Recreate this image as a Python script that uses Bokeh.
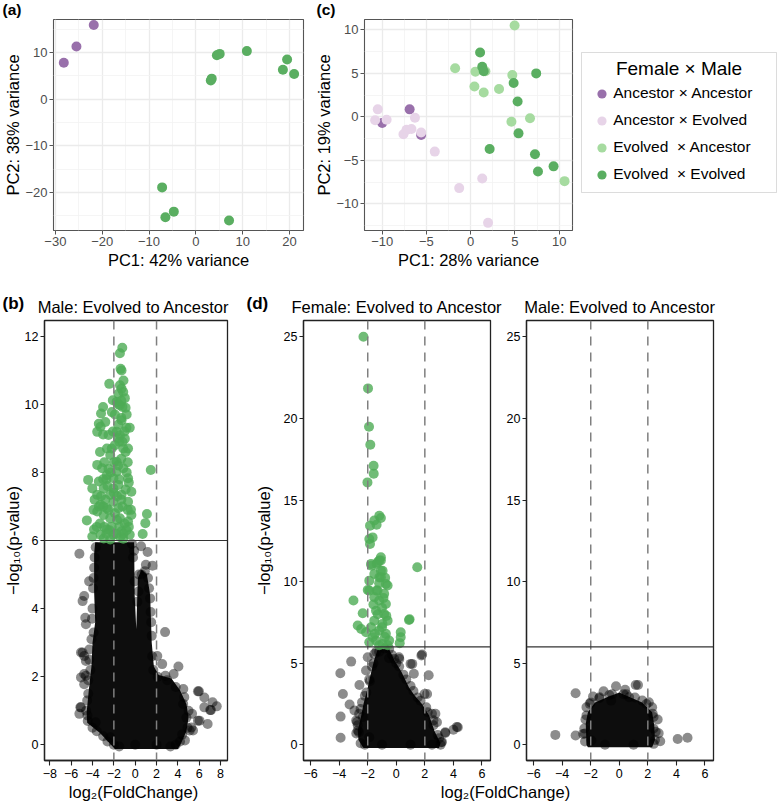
import math
from bokeh.plotting import figure
from bokeh.layouts import column, row
from bokeh.models import Range1d, FixedTicker, Span, Label, Legend, LegendItem, BoxAnnotation
from bokeh.embed import file_html
from bokeh.resources import INLINE

FONT = "Liberation Sans"

# ---------------- data: (a) PCA ----------------
a_anc_x = [-28.2, -25.5, -21.8]
a_anc_y = [7.8, 11.3, 15.9]
a_evo_x = [3.2, 3.4, 4.5, 5.1, 10.9, 19.5, 18.6, 21.0, -7.2, -6.5, -4.7, 7.1]
a_evo_y = [4.0, 4.4, 9.4, 9.7, 10.3, 8.5, 6.3, 5.4, -18.9, -25.3, -24.1, -26.0]
a_xticks = [-30, -20, -10, 0, 10, 20]
a_yticks = [-20, -10, 0, 10]
a_xminor = [-25, -15, -5, 5, 15]
a_yminor = [-25, -15, -5, 5, 15]

# ---------------- data: (c) PCA ----------------
group_labels = ["Ancestor × Ancestor", "Ancestor × Evolved", "Evolved  × Ancestor", "Evolved  × Evolved"]
group_colors = ["#9970ab", "#e7d4e8", "#a6dba0", "#5aae61"]
c_aa_x = [-10.0, -6.9, -5.6]
c_aa_y = [-0.72, 0.86, -2.1]
c_ae_x = [-10.5, -10.8, -9.5, -7.6, -7.25, -6.7, -6.3, -5.6, -4.06, -1.3, 1.3, 1.96]
c_ae_y = [0.86, -0.4, -0.34, -2.0, -1.5, -1.4, -0.1, -1.8, -4.0, -8.2, -7.1, -12.2]
c_ea_x = [-1.76, 0.53, 1.66, 0.42, 1.47, 3.2, 4.96, 4.7, 4.6, 6.7, 10.6]
c_ea_y = [5.6, 5.2, 5.25, 3.5, 2.8, 3.2, 10.5, 4.8, -0.56, -0.16, -7.4]
c_ee_x = [1.06, 1.3, 1.47, 4.85, 5.3, 5.4, 2.14, 7.4, 7.26, 7.6, 9.36]
c_ee_y = [7.4, 5.75, 5.25, 3.9, 1.76, -1.9, -3.7, 5.0, -4.3, -6.3, -5.7]
c_xticks = [-10, -5, 0, 5, 10]
c_yticks = [-10, -5, 0, 5, 10]
c_xminor = [-7.5, -2.5, 2.5, 7.5]
c_yminor = [-12.5, -7.5, -2.5, 2.5, 7.5]

# ---------------- data: volcano thresholds ----------------
fc_cut = [-2, 2]
p_cut = 6

# ---------------- data: (b) male volcano ----------------
b_core_x = [-3.75, -0.1, -0.05, 0.1, 0.25, 0.6, 1.1, 1.4, 1.55, 1.75, 2.2, 3.4, 4.2, 4.8, 5.0, 4.8, 4.3, 4.0,
            -1.9, -2.4, -3.3, -4.5, -4.55, -4.35, -4.1, -4.0, -3.75, -3.85, -3.85]
b_core_y = [5.95, 5.95, 4.4, 3.4, 4.9, 5.15, 5.0, 4.4, 3.0, 2.3, 2.05, 1.95, 1.6, 1.2, 0.8, 0.4, 0.05, -0.12,
            -0.12, 0.05, 0.35, 0.65, 0.95, 1.6, 2.3, 3.0, 3.6, 4.5, 5.6]
b_gray = [(-5.23, 5.61), (-4.78, 4.37), (-4.93, 4.22), (-4.62, 3.54), (-4.32, 4.80), (-5.08, 2.71),
          (-4.78, 2.61), (-4.62, 2.46), (-5.08, 1.98), (-4.62, 2.03), (-4.78, 1.78), (-5.08, 1.10),
          (-5.23, 0.91), (-4.47, 0.86), (-3.71, 0.66), (-2.34, 0.22), (0.55, 5.83), (1.16, 5.66),
          (1.62, 5.26), (1.0, 5.29), (2.8, 3.31), (2.07, 2.61), (2.53, 2.37), (4.05, 2.30), (2.83, 2.03),
          (3.6, 2.08), (4.51, 1.64), (5.88, 1.57), (6.48, 1.39), (7.25, 1.25), (7.64, 1.13), (6.48, 1.10),
          (7.1, 1.02), (5.88, 0.71), (6.79, 0.61), (5.42, 0.42), (4.66, 0.13), (5.27, 0.51), (-4.68, 3.73),
          (-4.93, 2.71), (-4.78, 2.08), (-5.14, 1.10), (5.97, 1.57), (7.03, 1.02), (6.03, 0.71), (5.11, 0.42),
          (5.33, 0.91), (-3.8, 5.5), (-3.9, 4.9), (-4.0, 4.0), (-3.9, 3.3), (-4.3, 2.8), (-4.2, 2.2),
          (-4.4, 1.5), (-4.6, 1.0), (-4.0, 0.5), (-3.0, 0.25), (-2.0, 0.0), (0.0, 0.0), (2.0, 0.0), (3.8, 0.0),
          (4.4, 0.3), (4.8, 0.8), (4.5, 1.2), (3.8, 1.7), (3.0, 1.9), (2.1, 2.0), (1.6, 2.6), (1.5, 3.6),
          (1.4, 4.3), (1.2, 4.9), (0.6, 5.0), (0.3, 4.5), (-0.2, 5.5), (-0.3, 5.9),
          (-3.7, 5.8), (-3.85, 5.2), (-3.95, 4.6), (-4.05, 3.7), (-4.1, 3.1), (-4.3, 2.5), (-4.4, 1.9),
          (-4.5, 1.3), (-4.45, 0.7), (-3.6, 0.4), (-2.6, 0.1), (1.7, 2.2), (1.55, 3.2), (1.45, 3.9),
          (1.3, 4.6), (0.9, 5.1), (0.35, 5.0), (0.2, 4.2), (-0.05, 4.8), (-0.1, 5.7), (4.6, 1.4),
          (5.0, 1.0), (4.9, 0.5), (4.2, 0.1), (3.3, -0.05), (-1.5, -0.05)]
b_green = [(-1.21, 11.66), (-1.43, 11.5), (-1.28, 10.99), (-1.37, 11.04), (-2.43, 10.6), (-1.43, 10.56),
           (-1.28, 10.46), (-1.12, 10.36), (-1.58, 10.31), (-0.97, 10.18), (-2.10, 10.12), (-1.74, 10.07),
           (-1.43, 9.97), (-1.19, 9.92), (-3.01, 9.92), (-3.2, 9.73), (-2.19, 9.77), (-3.41, 9.43),
           (-2.8, 9.48), (-3.25, 9.34), (-3.56, 9.19), (-3.01, 9.11), (-1.74, 9.19), (-1.28, 9.53),
           (-0.82, 9.31), (-0.51, 9.31), (-0.97, 8.99), (-0.67, 8.70), (-1.43, 9.09), (-2.65, 8.70),
           (-2.34, 8.51), (-3.56, 8.22), (-3.1, 8.12), (-2.65, 7.92), (-1.74, 8.31), (-1.12, 8.12),
           (-0.67, 7.83), (-3.41, 7.73), (-4.41, 7.78), (-4.02, 7.53), (-2.95, 7.53), (-3.56, 7.34),
           (-3.25, 7.05), (-2.04, 7.14), (-1.28, 7.34), (-0.67, 7.14), (-0.36, 7.43), (-3.56, 6.85),
           (-2.95, 6.75), (-2.34, 6.65), (-1.43, 6.65), (-0.67, 6.56), (-0.36, 6.75), (-4.53, 6.59),
           (-3.86, 6.32), (-3.25, 6.17), (-4.02, 6.12), (-2.65, 6.32), (-2.04, 6.17), (-1.28, 6.27),
           (-0.51, 6.17), (1.46, 8.07), (1.1, 6.78), (0.95, 6.51), (0.70, 6.19), (-2.04, 7.83),
           (-2.04, 7.53), (-1.58, 6.95), (-1.58, 7.63), (-1.12, 8.70), (-1.74, 8.02), (-2.34, 7.34),
           (-2.65, 6.95), (-1.12, 6.05), (-2.95, 6.06), (-2.34, 6.03), (-1.5, 6.4), (-1.0, 6.5),
           (-0.7, 6.9), (-1.3, 7.2), (-0.9, 7.5), (-1.5, 7.8), (-0.8, 8.0), (-1.3, 8.4), (-0.9, 8.6),
           (-1.5, 8.9), (-1.0, 9.2), (-1.3, 9.6), (-0.8, 9.7), (-1.6, 9.0), (-1.2, 7.0), (-0.6, 7.7),
           (-1.9, 6.8), (-2.6, 7.6), (-3.0, 7.0), (-3.3, 6.5), (-2.2, 6.4), (-1.7, 7.3), (-2.0, 8.3),
           (-2.3, 8.0), (-2.9, 8.3), (-1.1, 6.2), (-0.8, 6.3), (-1.4, 6.1), (-3.6, 6.4), (-2.7, 6.2),
           (-3.2, 7.3), (-2.8, 7.2), (-2.5, 6.9), (-3.4, 7.0), (-2.7, 7.8), (-3.0, 7.8), (-2.5, 8.1),
           (-2.2, 8.7), (-1.9, 8.8), (-2.1, 9.2), (-1.6, 9.4), (-1.9, 9.7), (-2.5, 9.1), (-3.3, 8.6),
           (-3.8, 7.2), (-3.9, 6.9), (-2.9, 6.4), (-2.4, 6.3), (-1.8, 6.2), (-1.7, 6.6), (-2.0, 7.4),
           (-1.6, 8.2), (-1.2, 8.9), (-0.9, 9.9), (-1.6, 10.0), (-1.1, 10.7), (-1.3, 10.1), (-0.7, 8.3),
           (-0.6, 6.4), (-0.4, 6.9)]
b_xticks = [-8, -6, -4, -2, 0, 2, 4, 6, 8]
b_yticks = [0, 2, 4, 6, 8, 10, 12]

# ---------------- data: (d) female volcano ----------------
d1_core_x = [-1.3, -0.5, -0.14, 0.35, 0.9, 1.3, 1.8, 2.3, 2.7, 3.1, 3.0, -2.3, -2.65, -2.7, -2.5, -2.3, -2.0, -1.75, -1.55]
d1_core_y = [5.85, 5.85, 5.2, 4.5, 3.5, 3.0, 2.5, 1.8, 0.8, 0.1, -0.2, -0.2, 0.3, 0.9, 1.6, 2.5, 3.5, 4.5, 5.2]
d1_gray = [(-3.16, 5.1), (-3.92, 4.39), (-3.74, 3.12), (-3.27, 2.47), (-3.9, 1.73), (-3.9, 0.43), (-2.58, 3.67),
           (-2.0, 5.37), (1.81, 5.53), (1.12, 4.96), (0.19, 5.37), (1.23, 4.35), (2.16, 3.12), (2.5, 1.9),
           (2.85, 1.38), (3.43, 0.73), (4.0, 0.92), (4.31, 1.08), (3.15, 0.16), (-2.35, 1.7), (-2.7, 0.88),
           (-0.5, 5.3), (-1.54, 5.57), (-0.5, 5.88), (-2.12, 4.55), (2.27, 4.26), (-2.93, 2.1), (-2.81, 1.49),
           (-2.62, 0.78), (-1.89, 0.47), (1.76, 5.47), (1.0, 4.96), (-0.14, 5.26), (0.21, 5.26), (1.98, 3.12),
           (2.74, 1.9), (3.43, 0.77), (4.24, 1.1), (3.2, 0.18), (-1.6, 5.0), (-1.9, 4.0), (-2.2, 3.0),
           (-2.5, 2.2), (-2.7, 1.2), (-2.5, 0.1), (-1.0, 0.0), (1.0, 0.0), (2.5, 0.0), (2.9, 0.6), (2.6, 1.5),
           (2.1, 2.3), (1.5, 2.9), (1.0, 3.6), (0.5, 4.3), (0.0, 5.0), (-0.8, 5.9), (-1.2, 5.7),
           (-1.4, 5.7), (-1.7, 4.8), (-1.85, 3.9), (-2.1, 3.2), (-2.4, 2.6), (-2.6, 1.9), (-2.75, 1.4),
           (-2.8, 0.7), (-0.3, 5.5), (0.2, 4.8), (0.7, 4.0), (1.2, 3.3), (1.7, 2.7), (2.2, 2.0), (2.6, 1.2),
           (3.0, 0.4), (3.1, 0.0), (-2.2, 0.0)]
d1_green = [(-2.3, 25.0), (-1.98, 21.84), (-1.91, 19.49), (-1.82, 18.39), (-1.59, 17.1), (-1.58, 16.61),
            (-2.02, 16.08), (-1.19, 14.04), (-1.08, 13.9), (-1.54, 13.74), (-1.84, 13.43), (-1.38, 13.48),
            (-1.89, 12.61), (-1.66, 12.71), (-1.84, 12.31), (-1.19, 11.29), (-1.38, 11.08), (-1.73, 10.98),
            (-1.08, 11.49), (-0.96, 10.67), (-1.19, 10.26), (-0.78, 10.23), (-2.0, 9.49), (-3.0, 8.84),
            (-1.38, 9.45), (1.47, 10.88), (0.93, 7.69), (0.31, 6.9), (-2.7, 7.31), (-2.35, 8.06),
            (-2.12, 6.9), (-2.46, 7.1), (0.89, 7.65), (0.31, 6.59), (0.24, 6.23), (-1.89, 6.29),
            (-1.77, 11.08), (-1.31, 11.18), (-1.08, 11.29), (-1.54, 10.47), (-1.08, 10.27), (-0.73, 9.86),
            (-0.61, 9.76), (-1.89, 9.45), (-1.31, 9.45), (-0.85, 9.25), (-1.2, 8.84), (-0.73, 8.63),
            (-1.42, 8.22), (-0.85, 8.02), (-1.54, 7.61), (-0.97, 7.41), (-1.2, 7.0), (-0.73, 6.8),
            (-1.42, 6.39), (-0.97, 6.18), (-1.65, 6.59), (-0.5, 6.39), (-0.61, 7.61), (-1.89, 10.06),
            (-1.08, 10.67), (-1.54, 9.04), (-1.77, 7.2), (-1.2, 9.9), (-0.9, 9.0), (-1.3, 8.0), (-1.0, 7.2),
            (-0.8, 6.6), (-1.2, 6.1), (-0.6, 6.1), (-1.5, 6.8), (-1.0, 8.4), (-0.7, 7.9), (-1.6, 8.6)]
d_xticks = [-6, -4, -2, 0, 2, 4, 6]
d_yticks = [0, 5, 10, 15, 20, 25]

# ---------------- data: (d) male volcano ----------------
d2_core_x = [-2.3, -2.35, -2.2, -1.7, -0.9, 0.0, 0.8, 1.6, 2.3, 2.45, 2.5, 2.3, -2.2]
d2_core_y = [0.0, 1.3, 2.0, 2.6, 2.9, 3.2, 2.9, 2.6, 2.0, 1.2, 0.3, -0.15, -0.15]
d2_gray = [(-4.48, 0.61), (-3.06, 3.16), (-3.06, 0.57), (-2.53, 0.67), (-1.84, 2.96), (-1.10, 3.28),
           (-0.23, 3.59), (0.41, 3.37), (1.15, 3.67), (1.31, 3.67), (2.3, 2.3), (2.69, 1.55), (2.76, 0.71),
           (2.87, 0.22), (4.09, 0.36), (4.78, 0.43), (-2.37, 1.55), (-2.07, 2.51), (-1.38, 2.92), (1.61, 2.71),
           (2.07, 2.61), (2.34, 1.9), (-1.95, 0.26), (2.41, 0.06), (-0.57, 2.71), (0.69, 2.92), (-2.4, 0.2),
           (-2.45, 1.0), (-2.3, 1.8), (-0.5, 3.1), (0.5, 3.1), (2.4, 1.0), (2.5, 0.3), (-1.0, 0.0), (1.0, 0.0),
           (-2.3, 2.3), (-2.0, 2.6), (-1.4, 2.85), (-0.7, 3.05), (0.3, 3.1), (1.1, 2.9), (1.9, 2.5),
           (2.4, 1.7), (2.55, 0.8), (-2.4, 0.7)]
d2_green = []

# ---------------- text ----------------
MINUS = "\u2212"
ylab_volcano = "\u2212log\u2081\u2080(p-value)"
xlab_volcano = "log\u2082(FoldChange)"
title_b = "Male: Evolved to Ancestor"
title_d1 = "Female: Evolved to Ancestor"
title_d2 = "Male: Evolved to Ancestor"
legend_title = "Female × Male"


def minus_labels(ticks):
    return {t: (MINUS + str(abs(t)) if t < 0 else str(t)) for t in ticks}


def strip(w, h):
    s = figure(frame_width=w, frame_height=h, min_border=0, x_range=Range1d(0, 1), y_range=Range1d(0, 1),
               output_backend="svg", toolbar_location=None, x_axis_location=None, y_axis_location=None,
               title_location=None)
    s.outline_line_color = None
    s.grid.visible = False
    return s


def put(p, text, x, y, size="16.5px", align="left", bold=False):
    p.add_layout(Label(x=x, y=y, x_units="screen", y_units="screen", text=text, text_align=align,
                       text_baseline="middle", text_font=FONT, text_font_size=size,
                       text_font_style="bold" if bold else "normal", text_color="black"))


def pca_fig(xr, yr, bl, br, fw, xt, yt, xm, ym, xlabel, ylabel, ystand):
    p = figure(frame_width=fw, frame_height=211, min_border_left=bl, min_border_right=br,
               min_border_top=1, min_border_bottom=51, x_range=Range1d(*xr), y_range=Range1d(*yr),
               output_backend="svg", toolbar_location=None, title_location=None)
    p.xaxis.ticker = FixedTicker(ticks=xt, minor_ticks=xm)
    p.yaxis.ticker = FixedTicker(ticks=yt, minor_ticks=ym)
    p.xaxis.major_label_overrides = minus_labels(xt)
    p.yaxis.major_label_overrides = minus_labels(yt)
    for ax in (p.xaxis, p.yaxis):
        ax.axis_line_color = None
        ax.major_tick_line_color = "#555555"
        ax.major_tick_in = 0
        ax.major_tick_out = 4
        ax.minor_tick_line_color = None
        ax.major_label_text_font = FONT
        ax.major_label_text_font_size = "13px"
        ax.major_label_text_color = "#4d4d4d"
        ax.major_label_standoff = 2
        ax.axis_label_text_font = FONT
        ax.axis_label_text_font_size = "16.5px"
        ax.axis_label_text_font_style = "normal"
        ax.axis_label_text_color = "black"
    p.xaxis.axis_label = xlabel
    p.xaxis.axis_label_standoff = 2
    p.yaxis.axis_label = ylabel
    p.yaxis.axis_label_standoff = ystand
    p.grid.grid_line_color = "#ebebeb"
    p.grid.grid_line_width = 1.3
    p.grid.minor_grid_line_color = "#f3f3f3"
    p.grid.minor_grid_line_width = 0.8
    p.outline_line_color = "#555555"
    p.outline_line_width = 1.1
    return p


def volcano(core_x, core_y, gray, green, xr, yr, xt, yt, bl, br, fw=187, ylabel=None, ystand=0):
    p = figure(frame_width=fw, frame_height=440, min_border_left=bl, min_border_right=br,
               min_border_top=1, min_border_bottom=23, x_range=Range1d(*xr), y_range=Range1d(*yr),
               output_backend="svg", toolbar_location=None, title_location=None)
    p.patch(core_x, core_y, fill_color="black", fill_alpha=0.95, line_color=None)
    if gray:
        p.scatter([g[0] for g in gray], [g[1] for g in gray], size=10, fill_color="black",
                  fill_alpha=0.45, line_color=None)
    if green:
        p.scatter([g[0] for g in green], [g[1] for g in green], size=10, fill_color="#4dab55",
                  fill_alpha=0.8, line_color=None)
    for v in fc_cut:
        p.add_layout(Span(location=v, dimension="height", line_color="#7f7f7f", line_width=1.5,
                          line_dash="9 7"))
    p.add_layout(Span(location=p_cut, dimension="width", line_color="#333333", line_width=1.2))
    p.xaxis.ticker = FixedTicker(ticks=xt)
    p.yaxis.ticker = FixedTicker(ticks=yt)
    for ax in (p.xaxis, p.yaxis):
        ax.axis_line_color = "#222222"
        ax.axis_line_width = 1.3
        ax.major_tick_line_color = "#222222"
        ax.major_tick_line_width = 1.1
        ax.major_tick_in = 0
        ax.minor_tick_line_color = None
        ax.major_label_text_font = FONT
        ax.major_label_text_font_size = "12.5px"
        ax.major_label_text_color = "black"
    p.xaxis.major_tick_out = 5
    p.xaxis.major_label_standoff = 3
    p.yaxis.major_tick_out = 4
    p.yaxis.major_label_standoff = 2
    if ylabel:
        p.yaxis.axis_label = ylabel
        p.yaxis.axis_label_text_font = FONT
        p.yaxis.axis_label_text_font_size = "16.5px"
        p.yaxis.axis_label_text_font_style = "normal"
        p.yaxis.axis_label_text_color = "black"
        p.yaxis.axis_label_standoff = ystand
    p.grid.visible = False
    p.outline_line_color = "#222222"
    p.outline_line_width = 1.3
    return p


# ---------------- top strip: panel tags ----------------
top = strip(777, 18)
put(top, "(a)", 2, 9, size="15.5px", bold=True)
put(top, "(c)", 316, 9, size="15.5px", bold=True)

# ---------------- (a) ----------------
pa = pca_fig((-30.4, 23.0), (-28.14, 17.07), 53, 9, 250,
             a_xticks, a_yticks, a_xminor, a_yminor, "PC1: 42% variance", "PC2: 38% variance", 0)
pa.scatter(a_anc_x, a_anc_y, size=10, fill_color=group_colors[0], line_color=None)
pa.scatter(a_evo_x, a_evo_y, size=10, fill_color=group_colors[3], line_color=None)

# ---------------- (c) ----------------
pc = pca_fig((-12.0, 11.5), (-13.08, 11.2), 52, 8, 208,
             c_xticks, c_yticks, c_xminor, c_yminor, "PC1: 28% variance", "PC2: 19% variance", 0)
for xs, ys, col in [(c_aa_x, c_aa_y, group_colors[0]), (c_ae_x, c_ae_y, group_colors[1]),
                    (c_ea_x, c_ea_y, group_colors[2]), (c_ee_x, c_ee_y, group_colors[3])]:
    pc.scatter(xs, ys, size=10, fill_color=col, line_color=None)

# ---------------- legend panel (glyphs re-use the (c) data, kept outside the visible range) -------
pl = figure(frame_width=197, frame_height=211, min_border_left=0, min_border_right=0,
            min_border_top=1, min_border_bottom=51, x_range=Range1d(100, 101), y_range=Range1d(100, 101),
            output_backend="svg", toolbar_location=None, x_axis_location=None, y_axis_location=None,
            title_location=None)
pl.grid.visible = False
pl.outline_line_color = None
pl.add_layout(BoxAnnotation(left=1, right=196, bottom=38, top=178, left_units="screen",
                            right_units="screen", bottom_units="screen", top_units="screen",
                            fill_alpha=0, line_color="#8c8c8c", line_width=1))
items = []
for lab, col, xs, ys in zip(group_labels, group_colors, [c_aa_x, c_ae_x, c_ea_x, c_ee_x],
                            [c_aa_y, c_ae_y, c_ea_y, c_ee_y]):
    r = pl.scatter(xs, ys, size=10, fill_color=col, line_color=None)
    items.append(LegendItem(label=lab, renderers=[r]))
leg = Legend(items=items, location=(10.2, 44.2), orientation="vertical", padding=0, spacing=4,
             glyph_width=23, glyph_height=23, label_height=23, label_standoff=0, margin=0,
             border_line_color=None, background_fill_alpha=0, label_text_font=FONT,
             label_text_font_size="15.5px", label_text_color="black")
pl.add_layout(leg)
put(pl, legend_title, 98.5, 162, size="19px", align="center")

# ---------------- middle strip: tags + volcano titles ----------------
mid = strip(777, 38)
put(mid, "(b)", 2, 16.5, size="17px", bold=True)
put(mid, "(d)", 246, 16.5, size="17px", bold=True)
put(mid, title_b, 133, 12.3, align="center")
put(mid, title_d1, 396.5, 12.3, align="center")
put(mid, title_d2, 619.5, 12.3, align="center")

# ---------------- volcano panels ----------------
pb = volcano(b_core_x, b_core_y, b_gray, b_green, (-8.5, 8.65), (-0.46, 12.46), b_xticks, b_yticks,
             44, 11, fw=183, ylabel=ylab_volcano, ystand=0)
pd1 = volcano(d1_core_x, d1_core_y, d1_gray, d1_green, (-6.5, 6.6), (-0.96, 26.0), d_xticks, d_yticks,
              65, 6, ylabel=ylab_volcano, ystand=8)
pd2 = volcano(d2_core_x, d2_core_y, d2_gray, d2_green, (-6.5, 6.6), (-0.96, 26.0), d_xticks, d_yticks,
              30, 64)

# ---------------- bottom strip: x-axis titles ----------------
bot = strip(777, 24)
put(bot, xlab_volcano, 133, 15.2, align="center")
put(bot, xlab_volcano, 505, 15.2, align="center")

layout = column(top, row(pa, pc, pl), mid, row(pb, pd1, pd2), bot)

open("out.html", "w").write(file_html(layout, INLINE))
